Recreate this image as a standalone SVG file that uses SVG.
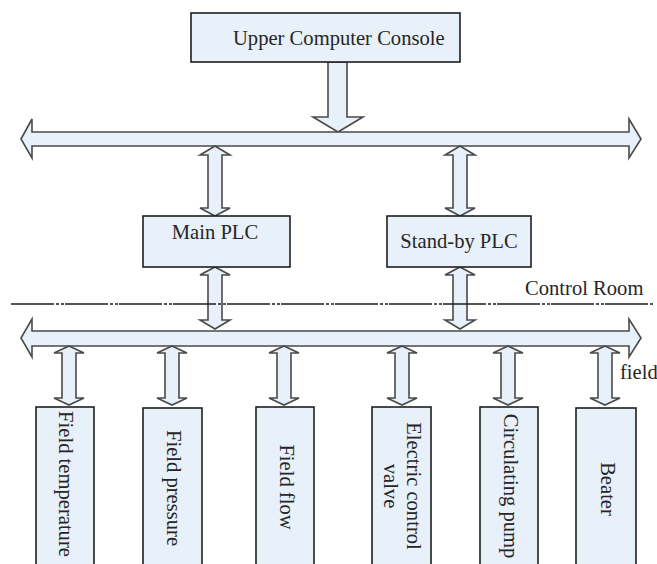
<svg xmlns="http://www.w3.org/2000/svg" width="657" height="564" viewBox="0 0 657 564">
  <style>
    .box { fill: #e8f0f9; stroke: #1e1e1e; stroke-width: 1.6; }
    .arrow { fill: #e8f0f9; stroke: #4a4a4a; stroke-width: 1.6; stroke-linejoin: miter; }
    .lbl { font-family: "Liberation Serif", "Times New Roman", serif; font-size: 20.6px; fill: #262626; }
    .mid { text-anchor: middle; }
    .divider { stroke: #1e1e1e; stroke-width: 1.4; stroke-dasharray: 43 2 3 2 3 1; fill: none; }
  </style>
  <rect width="657" height="564" fill="#ffffff"/>

  <!-- connectors: buses and block arrows -->
  <g id="connectors">
    <!-- console down to upper bus -->
    <polygon class="arrow" points="328,62 347,62 347,117 363,117 338,132 313,117 328,117"/>
    <!-- upper bus -->
    <polygon class="arrow" points="21,139 32,119 32,132 629,132 629,119 641,139 629,158 629,146 32,146 32,158"/>
    <!-- upper bus to Main PLC -->
    <polygon class="arrow" points="215,146 230,155 222,155 222,208 230,208 215,216 200,208 208,208 208,155 200,155"/>
    <!-- upper bus to Stand-by PLC -->
    <polygon class="arrow" points="460,146 475,155 467,155 467,208 475,208 460,216 445,208 453,208 453,155 445,155"/>
    <!-- Main PLC to lower bus -->
    <polygon class="arrow" points="215,267 230,275 222,275 222,320 230,320 215,329 200,320 208,320 208,275 200,275"/>
    <!-- Stand-by PLC to lower bus -->
    <polygon class="arrow" points="460,267 475,275 467,275 467,320 475,320 460,329 445,320 453,320 453,275 445,275"/>
    <!-- lower bus -->
    <polygon class="arrow" points="21,338 32,319 32,331 629,331 629,319 641,338 629,357 629,346 32,346 32,357"/>
    <!-- lower bus to field devices -->
    <polygon class="arrow" points="69,346 84,353 76,353 76,398 84,398 69,405 54,398 62,398 62,353 54,353"/>
    <polygon class="arrow" points="172,346 187,353 179,353 179,398 187,398 172,405 157,398 165,398 165,353 157,353"/>
    <polygon class="arrow" points="284,346 299,353 291,353 291,398 299,398 284,405 269,398 277,398 277,353 269,353"/>
    <polygon class="arrow" points="402,346 417,353 409,353 409,398 417,398 402,405 387,398 395,398 395,353 387,353"/>
    <polygon class="arrow" points="508,346 523,353 515,353 515,398 523,398 508,405 493,398 501,398 501,353 493,353"/>
    <polygon class="arrow" points="605,346 620,353 612,353 612,398 620,398 605,405 590,398 598,398 598,353 590,353"/>
  </g>

  <!-- boundary between control room and field -->
  <g id="boundary">
    <line class="divider" x1="11" y1="304" x2="653" y2="304"/>
    <text class="lbl" x="525" y="295">Control Room</text>
    <text class="lbl" x="620" y="379">field</text>
  </g>

  <g id="console">
    <rect class="box" x="191" y="13" width="269" height="49"/>
    <text class="lbl" x="233" y="45">Upper Computer Console</text>
  </g>

  <g id="main-plc">
    <rect class="box" x="143" y="216" width="147" height="51"/>
    <text class="lbl mid" x="215" y="239">Main PLC</text>
  </g>

  <g id="standby-plc">
    <rect class="box" x="387" y="216" width="144" height="51"/>
    <text class="lbl mid" x="459" y="248">Stand-by PLC</text>
  </g>

  <g id="field-temperature">
    <rect class="box" x="36" y="407" width="58" height="165"/>
    <text class="lbl mid" transform="translate(59,484) rotate(90)">Field temperature</text>
  </g>

  <g id="field-pressure">
    <rect class="box" x="143" y="408" width="59" height="164"/>
    <text class="lbl mid" transform="translate(167,488) rotate(90)">Field pressure</text>
  </g>

  <g id="field-flow">
    <rect class="box" x="256" y="407" width="58" height="165"/>
    <text class="lbl mid" transform="translate(280,487) rotate(90)">Field flow</text>
  </g>

  <g id="electric-control-valve">
    <rect class="box" x="372" y="407" width="59" height="165"/>
    <text class="lbl mid" transform="translate(407,486) rotate(90)">Electric control</text>
    <text class="lbl mid" transform="translate(384,486) rotate(90)">valve</text>
  </g>

  <g id="circulating-pump">
    <rect class="box" x="480" y="407" width="58" height="165"/>
    <text class="lbl mid" transform="translate(504,486) rotate(90)">Circulating pump</text>
  </g>

  <g id="beater">
    <rect class="box" x="576" y="408" width="60" height="164"/>
    <text class="lbl mid" transform="translate(601,489) rotate(90)">Beater</text>
  </g>
</svg>
